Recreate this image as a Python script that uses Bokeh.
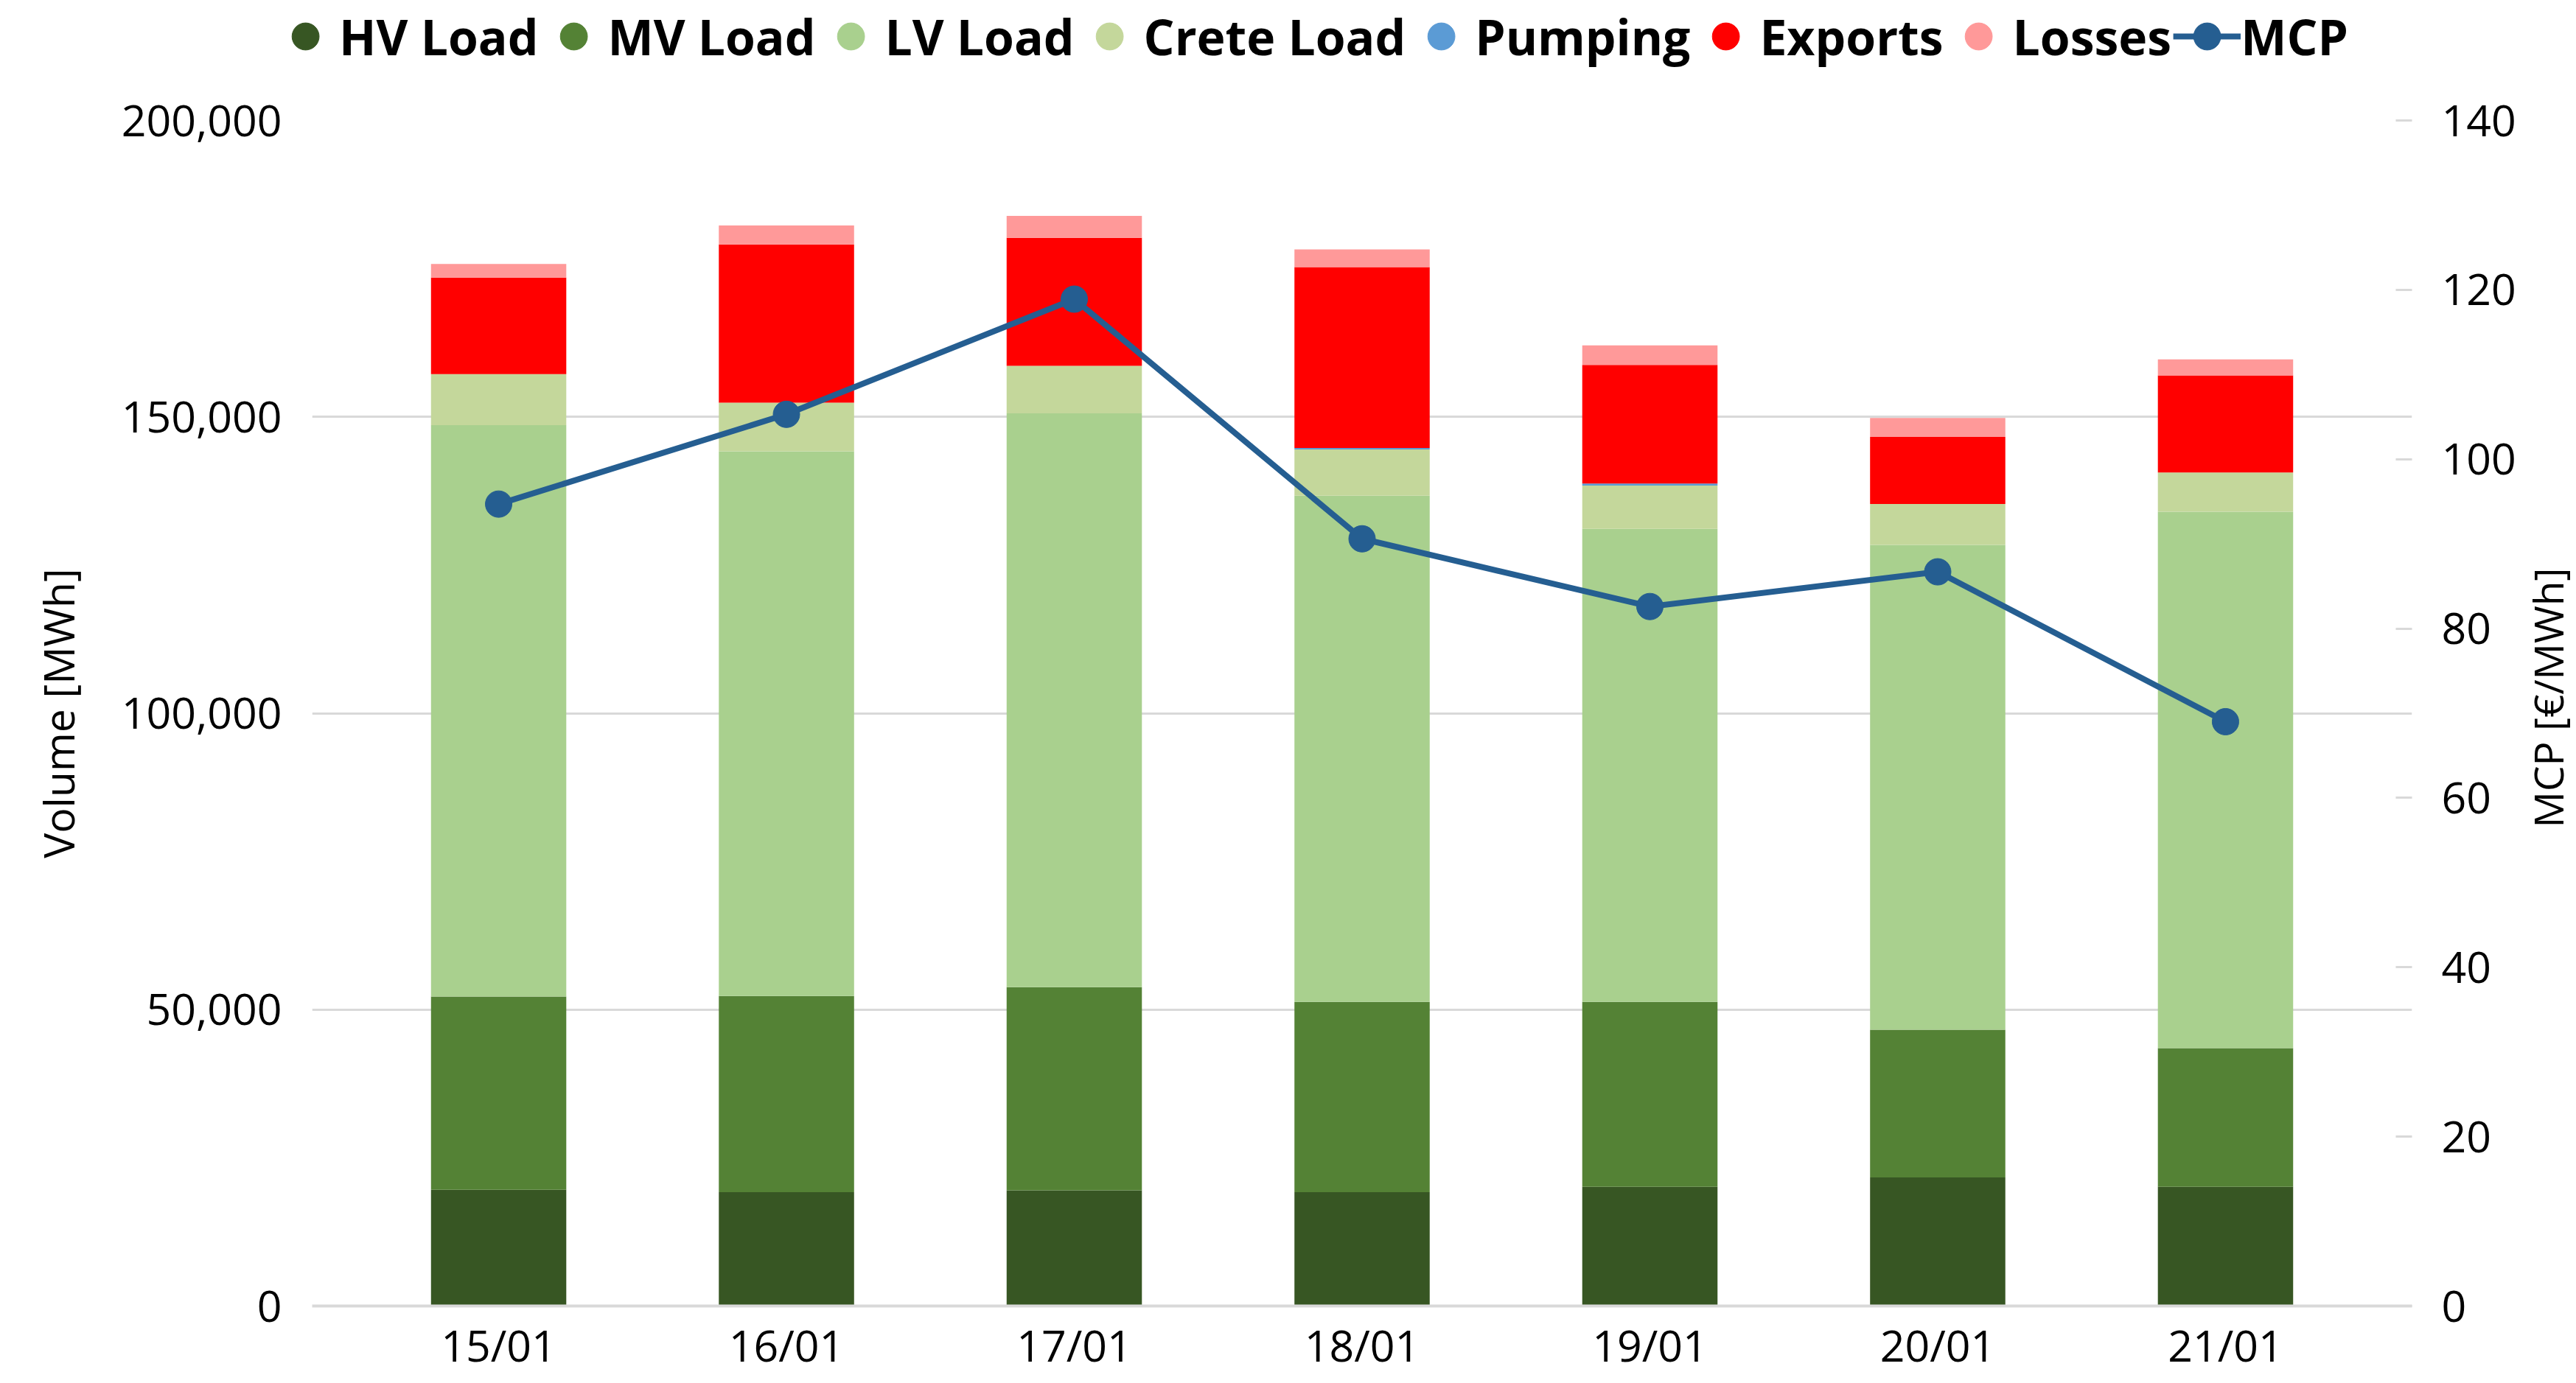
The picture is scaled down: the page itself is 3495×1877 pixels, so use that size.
from bokeh.plotting import figure
from bokeh.layouts import column, row
from bokeh.models import (ColumnDataSource, FactorRange, Range1d, LinearAxis, SingleIntervalTicker,
                          NumeralTickFormatter, Legend, LegendItem, Title)
from bokeh.embed import file_html
from bokeh.resources import INLINE

dates = ["15/01", "16/01", "17/01", "18/01", "19/01", "20/01", "21/01"]
hv_load = [19600, 19200, 19500, 19200, 20100, 21700, 20100]
mv_load = [32600, 33100, 34300, 32100, 31200, 24900, 23400]
lv_load = [96400, 91900, 96800, 85400, 79800, 81800, 90500]
crete_load = [8600, 8200, 8000, 7800, 7300, 6900, 6600]
pumping = [0, 0, 0, 250, 350, 0, 0]
exports = [16300, 26700, 21600, 30500, 20000, 11300, 16400]
losses = [2300, 3200, 3700, 3000, 3300, 3200, 2700]
mcp = [94.7, 105.3, 118.9, 90.6, 82.6, 86.7, 69.0]

series = ["HV Load", "MV Load", "LV Load", "Crete Load", "Pumping", "Exports", "Losses"]
keys = ["hv", "mv", "lv", "crete", "pump", "exp", "loss"]
colors = ["#375623", "#548235", "#A9D08E", "#C4D79B", "#5B9BD5", "#FF0000", "#FF9999"]
mcp_color = "#255E91"

src = ColumnDataSource(dict(date=dates, hv=hv_load, mv=mv_load, lv=lv_load, crete=crete_load,
                            pump=pumping, exp=exports, loss=losses, mcp=mcp))

FONT = "Open Sans"
TOTAL_W = 3495
LEG_H = 98
MAIN_W = 3416
MAIN_H = 1877 - LEG_H
SIDE_W = TOTAL_W - MAIN_W
B_TOP, B_BOTTOM = 65, 105

# ---------------- main chart ----------------
p = figure(width=MAIN_W, height=MAIN_H, output_backend="svg", toolbar_location=None,
           x_range=FactorRange(factors=dates, range_padding=0.148, range_padding_units="absolute"),
           y_range=Range1d(0, 200000),
           min_border_left=423, min_border_right=140, min_border_top=B_TOP, min_border_bottom=B_BOTTOM)
p.outline_line_color = None
p.background_fill_color = "white"
p.border_fill_color = "white"
p.extra_y_ranges = {"mcp": Range1d(0, 140)}

p.vbar_stack(keys, x="date", width=0.47, color=colors, source=src, line_width=0)
line = p.line(x="date", y="mcp", source=src, y_range_name="mcp", line_color=mcp_color, line_width=8)
pts = p.scatter(x="date", y="mcp", source=src, y_range_name="mcp", marker="circle", size=36,
                fill_color=mcp_color, line_color=mcp_color)

# left axis
ya = p.yaxis[0]
ya.ticker = SingleIntervalTicker(interval=50000)
ya.formatter = NumeralTickFormatter(format="0,0")
ya.axis_line_color = None
ya.major_tick_line_color = None
ya.minor_tick_line_color = None
ya.major_label_text_font = FONT
ya.major_label_text_font_size = "59px"
ya.major_label_text_color = "#000000"
ya.major_label_standoff = 35
ya.axis_label = "Volume [MWh]"
ya.axis_label_text_font = FONT
ya.axis_label_text_font_size = "57px"
ya.axis_label_text_font_style = "normal"
ya.axis_label_text_color = "#000000"
ya.axis_label_standoff = 44

# right axis (its title is drawn in the side strip)
ra = LinearAxis(y_range_name="mcp", ticker=SingleIntervalTicker(interval=20))
ra.axis_line_color = None
ra.major_tick_in = 22
ra.major_tick_out = 0
ra.major_tick_line_color = "#D9D9D9"
ra.major_tick_line_width = 3
ra.minor_tick_line_color = None
ra.major_label_text_font = FONT
ra.major_label_text_font_size = "59px"
ra.major_label_text_color = "#000000"
ra.major_label_standoff = 36
p.add_layout(ra, "right")

# x axis
xa = p.xaxis[0]
xa.axis_line_color = "#D9D9D9"
xa.axis_line_width = 4
xa.major_tick_line_color = None
xa.minor_tick_line_color = None
xa.major_label_text_font = FONT
xa.major_label_text_font_size = "59px"
xa.major_label_text_color = "#000000"
xa.major_label_standoff = 6

p.xgrid.grid_line_color = None
p.ygrid.grid_line_color = "#D9D9D9"
p.ygrid.grid_line_width = 3

# ---------------- side strip with right axis title ----------------
side = figure(width=SIDE_W, height=MAIN_H, output_backend="svg", toolbar_location=None,
              x_axis_type=None, y_axis_type=None, title=None,
              min_border_left=0, min_border_right=0, min_border_top=B_TOP, min_border_bottom=B_BOTTOM)
side.outline_line_color = None
side.grid.visible = False
side.border_fill_color = "white"
side.background_fill_color = "white"
side.add_layout(Title(text="MCP [€/MWh]", align="left", offset=649, text_font=FONT,
                      text_font_size="55px", text_font_style="normal", text_color="#000000",
                      standoff=0), "left")

# ---------------- legend strip ----------------
lg = figure(width=TOTAL_W, height=LEG_H, output_backend="svg", toolbar_location=None,
            x_range=FactorRange(factors=dates), y_range=Range1d(0, 1),
            x_axis_type=None, y_axis_type=None,
            min_border_left=59, min_border_right=0, min_border_top=0, min_border_bottom=0)
lg.outline_line_color = None
lg.grid.visible = False
lg.border_fill_color = "white"
lg.background_fill_color = "white"

proxies = []
for k, c in zip(keys, colors):
    r = lg.scatter(x="date", y=k, source=src, marker="circle", size=40, fill_color=c, line_color=c,
                   visible=False)
    proxies.append(r)
mline = lg.line(x="date", y="mcp", source=src, line_color=mcp_color, line_width=8, visible=False)
mpts = lg.scatter(x="date", y="mcp", source=src, marker="circle", size=40,
                  fill_color=mcp_color, line_color=mcp_color, visible=False)

items = [LegendItem(label=s, renderers=[r]) for s, r in zip(series, proxies)]
items.append(LegendItem(label="MCP", renderers=[mline, mpts]))
legend = Legend(items=items, orientation="horizontal", location="center",
                glyph_width=92, glyph_height=100, label_standoff=0, spacing=2, padding=0, margin=0,
                label_text_font=FONT, label_text_font_style="bold", label_text_font_size="66px",
                label_text_color="#000000", border_line_alpha=0, background_fill_alpha=0)
lg.add_layout(legend, "center")

layout = column(lg, row(p, side))
open("out.html", "w").write(file_html(layout, INLINE))
